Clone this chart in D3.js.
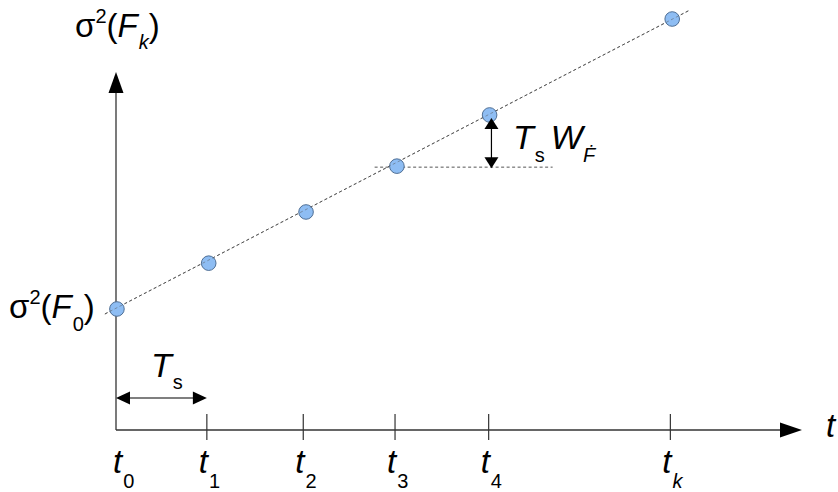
<!DOCTYPE html>
<html><head><meta charset="utf-8">
<script src="https://cdn.jsdelivr.net/npm/d3@7"></script>
<style>
html,body{margin:0;padding:0;background:#fff;}
text{font-family:"Liberation Sans",Arial,sans-serif;fill:#000;}
</style></head>
<body>
<svg id="c" width="838" height="492"></svg>
<script>
// ---- data ----
const tickLabels = ["0", "1", "2", "3", "4", "k"];     // subscripts of t
const tickTimes  = [0, 0.98, 2.02, 3.01, 4.02, 5.98]; // tick positions (sample periods)
const pointTimes = [0.01, 1.0, 2.05, 3.03, 4.03, 6.0];
const variance   = [33.8, 46.6, 60.9, 73.7, 88.0, 114.8]; // σ²(F_k)
const trendT     = [-0.12, 6.19];
const trendV     = [32.4, 117.3];

const svg = d3.select("#c");
const x = d3.scaleLinear().domain([0, 7.4]).range([116, 802]);
const y = d3.scaleLinear().domain([0, 100]).range([430, 72]);

const axisColor = "#333";

// y axis line
svg.append("line").attr("x1", x(0)).attr("x2", x(0)).attr("y1", y(0)).attr("y2", y(96))
  .attr("stroke", axisColor).attr("stroke-width", 1.3);
svg.append("path").attr("d", `M${x(0)},${y(100)} L${x(0)-7.5},${y(100)+21} L${x(0)+7.5},${y(100)+21} Z`).attr("fill", "#000");

// x axis line
svg.append("line").attr("x1", x(0)).attr("x2", x(7.2)).attr("y1", y(0)).attr("y2", y(0))
  .attr("stroke", axisColor).attr("stroke-width", 1.3);
svg.append("path").attr("d", `M${x(7.4)},${y(0)} L${x(7.4)-22},${y(0)-7.5} L${x(7.4)-22},${y(0)+7.5} Z`).attr("fill", "#000");

// ticks
svg.selectAll(".tick").data(tickTimes.slice(1)).enter().append("line")
  .attr("x1", d => x(d)).attr("x2", d => x(d)).attr("y1", y(0) - 16).attr("y2", y(0) + 10)
  .attr("stroke", axisColor).attr("stroke-width", 1.2);

// tick labels
const tl = svg.selectAll(".tl").data(tickTimes).enter().append("text")
  .attr("x", (d, i) => x(d) - (i === 0 ? 3 : 8)).attr("y", 473).attr("font-size", 33);
tl.append("tspan").attr("font-style", "italic").text("t");
tl.append("tspan").attr("font-size", 20).attr("dx", 1).attr("dy", 15)
  .attr("font-style", (d, i) => tickLabels[i] === "k" ? "italic" : "normal")
  .text((d, i) => tickLabels[i]);

// axis label t
svg.append("text").attr("x", 826).attr("y", 437).attr("font-size", 33).attr("font-style", "italic").text("t");

// trend dashed line
svg.append("line").attr("x1", x(trendT[0])).attr("y1", y(trendV[0])).attr("x2", x(trendT[1])).attr("y2", y(trendV[1]))
  .attr("stroke", "#555").attr("stroke-width", 1).attr("stroke-dasharray", "3,2.5");

// horizontal reference dashed line at t3 level
svg.append("line").attr("x1", x(2.79)).attr("x2", x(4.71)).attr("y1", y(variance[3]) + 1).attr("y2", y(variance[3]) + 1)
  .attr("stroke", "#555").attr("stroke-width", 1).attr("stroke-dasharray", "3,2.5");

// points
svg.selectAll(".pt").data(variance).enter().append("circle")
  .attr("cx", (d, i) => x(pointTimes[i])).attr("cy", d => y(d)).attr("r", 7.3)
  .attr("fill", "#8ebdf3").attr("stroke", "#4f6f95").attr("stroke-width", 1);
svg.append("line").attr("x1", x(trendT[0])).attr("y1", y(trendV[0])).attr("x2", x(trendT[1])).attr("y2", y(trendV[1]))
  .attr("stroke", "#555").attr("stroke-width", 0.8).attr("stroke-dasharray", "3,2.5").attr("opacity", 0.6);

// vertical double arrow T_s W_F
const ax = x(4.05);
const yTop = y(variance[4]) + 3, yBot = y(variance[3]) + 2;
svg.append("line").attr("x1", ax).attr("x2", ax).attr("y1", yTop + 10).attr("y2", yBot - 10)
  .attr("stroke", "#000").attr("stroke-width", 1.2);
svg.append("path").attr("d", `M${ax},${yTop} L${ax-7},${yTop+11} L${ax+7},${yTop+11} Z`).attr("fill", "#000");
svg.append("path").attr("d", `M${ax},${yBot} L${ax-7},${yBot-11} L${ax+7},${yBot-11} Z`).attr("fill", "#000");

// horizontal double arrow T_s
const ay = 398, xl = x(tickTimes[0]), xr = x(tickTimes[1]);
svg.append("line").attr("x1", xl + 12).attr("x2", xr - 12).attr("y1", ay).attr("y2", ay)
  .attr("stroke", "#000").attr("stroke-width", 1.2);
svg.append("path").attr("d", `M${xl},${ay} L${xl+14},${ay-6.5} L${xl+14},${ay+6.5} Z`).attr("fill", "#000");
svg.append("path").attr("d", `M${xr},${ay} L${xr-14},${ay-6.5} L${xr-14},${ay+6.5} Z`).attr("fill", "#000");

// T_s label (bottom)
const ts = svg.append("text").attr("x", 151).attr("y", 377).attr("font-size", 34);
ts.append("tspan").attr("font-style", "italic").text("T");
ts.append("tspan").attr("font-size", 20).attr("dx", 1).attr("dy", 12).text("s");

// T_s W_F label
const tw = svg.append("text").attr("x", 513).attr("y", 149).attr("font-size", 34);
tw.append("tspan").attr("font-style", "italic").text("T");
tw.append("tspan").attr("font-size", 20).attr("dx", 1).attr("dy", 13).text("s");
tw.append("tspan").attr("font-style", "italic").attr("dx", 6).attr("dy", -13).text("W");
tw.append("tspan").attr("font-size", 20).attr("font-style", "italic").attr("dx", 0).attr("dy", 13).text("Ḟ");

// top y label σ²(F_k)
const yl = svg.append("text").attr("x", 75).attr("y", 37).attr("font-size", 33);
yl.append("tspan").text("σ");
yl.append("tspan").attr("font-size", 20).attr("dy", -14).text("2");
yl.append("tspan").attr("dy", 14).text("(");
yl.append("tspan").attr("font-style", "italic").text("F");
yl.append("tspan").attr("font-size", 20).attr("font-style", "italic").attr("dx", 1).attr("dy", 12).text("k");
yl.append("tspan").attr("dy", -12).text(")");

// left label σ²(F_0)
const l0 = svg.append("text").attr("x", 9).attr("y", 318).attr("font-size", 33);
l0.append("tspan").text("σ");
l0.append("tspan").attr("font-size", 20).attr("dy", -14).text("2");
l0.append("tspan").attr("dy", 14).text("(");
l0.append("tspan").attr("font-style", "italic").text("F");
l0.append("tspan").attr("font-size", 20).attr("dx", 1).attr("dy", 13).text("0");
l0.append("tspan").attr("dy", -13).text(")");
</script>
</body></html>
